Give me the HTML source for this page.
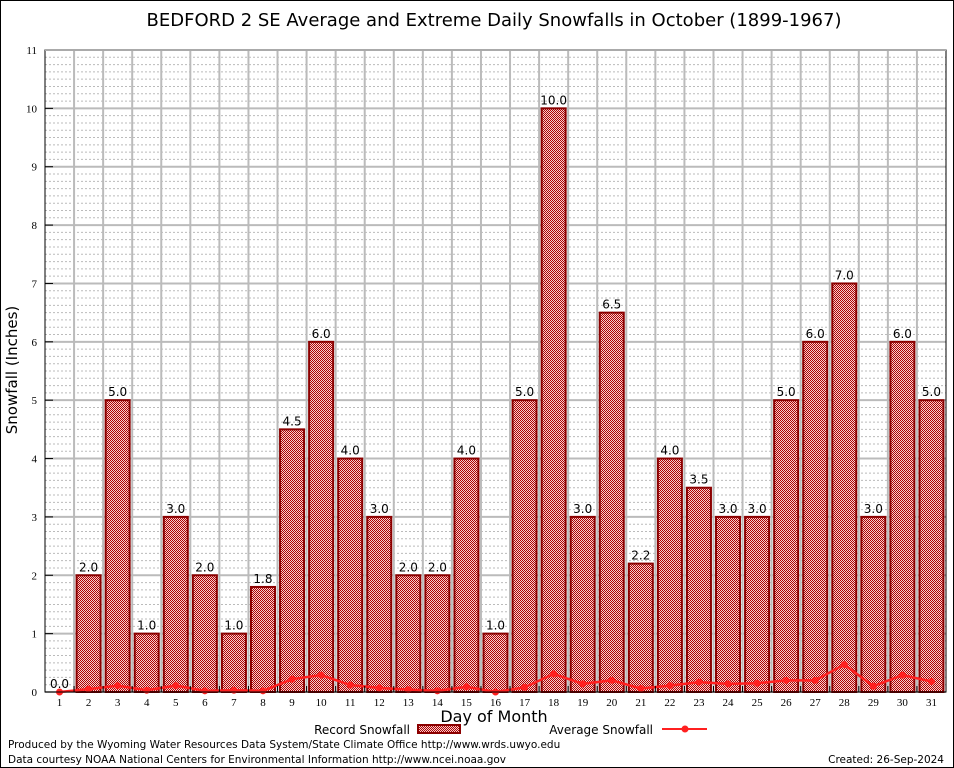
<!DOCTYPE html>
<html><head><meta charset="utf-8"><style>
html,body{margin:0;padding:0;background:#fff;}
svg{display:block;font-family:"DejaVu Sans","Liberation Sans",sans-serif;}
</style></head><body>
<svg id="chart" width="954" height="768" viewBox="0 0 954 768">
<defs>
<pattern id="chk" width="2" height="2" patternUnits="userSpaceOnUse">
<rect width="2" height="2" fill="#f4d0d0" shape-rendering="crispEdges"/><rect width="1" height="1" fill="#b00000" shape-rendering="crispEdges"/><rect x="1" y="1" width="1" height="1" fill="#b00000" shape-rendering="crispEdges"/>
</pattern>
</defs>
<rect x="0.5" y="0.5" width="953" height="767" fill="#fff" stroke="#000"/>
<text x="494" y="26" font-size="18" text-anchor="middle">BEDFORD 2 SE Average and Extreme Daily Snowfalls in October (1899-1967)</text>
<g id="grid"></g>
<g id="bars"></g>
<g id="avg"></g>
<g id="axes"></g>
<text transform="translate(17,370) rotate(-90)" font-size="15" text-anchor="middle">Snowfall (Inches)</text>
<text x="494" y="722" font-size="16" text-anchor="middle">Day of Month</text>
<g>
<text x="410" y="734" font-size="12" text-anchor="end">Record Snowfall</text>
<rect x="418" y="725" width="42" height="8" fill="url(#chk)" stroke="#8b0000" stroke-width="2"/>
<text x="653" y="734" font-size="12" text-anchor="end">Average Snowfall</text>
<line x1="662" y1="729" x2="707" y2="729" stroke="#ff2020" stroke-width="2"/>
<circle cx="685" cy="729" r="3.5" fill="#ff2020"/>
</g>
<text x="8" y="748" font-size="10.5">Produced by the Wyoming Water Resources Data System/State Climate Office http://www.wrds.uwyo.edu</text>
<text x="8" y="763" font-size="10.5">Data courtesy NOAA National Centers for Environmental Information http://www.ncei.noaa.gov</text>
<text x="944" y="763" font-size="10.5" text-anchor="end">Created: 26-Sep-2024</text>
</svg>
<script>
const days = [1,2,3,4,5,6,7,8,9,10,11,12,13,14,15,16,17,18,19,20,21,22,23,24,25,26,27,28,29,30,31];
const recordSnow = [0.0,2.0,5.0,1.0,3.0,2.0,1.0,1.8,4.5,6.0,4.0,3.0,2.0,2.0,4.0,1.0,5.0,10.0,3.0,6.5,2.2,4.0,3.5,3.0,3.0,5.0,6.0,7.0,3.0,6.0,5.0];
const avgSnow = [0.0,0.05,0.11,0.03,0.11,0.02,0.03,0.02,0.22,0.29,0.12,0.07,0.04,0.02,0.09,0.0,0.08,0.31,0.14,0.2,0.06,0.11,0.17,0.14,0.15,0.2,0.2,0.47,0.1,0.29,0.18];
const yTicks = [0,1,2,3,4,5,6,7,8,9,10,11];

const NS='http://www.w3.org/2000/svg';
const L=45,R=946,T=50,B=692,YMAX=11;
const slot=(R-L)/days.length;
const xs=d=>L+(d-0.5)*slot;
const ys=v=>B-(v/YMAX)*(B-T);
function mk(tag,attrs,parent){const e=document.createElementNS(NS,tag);for(const k in attrs)e.setAttribute(k,attrs[k]);parent.appendChild(e);return e;}
const grid=document.getElementById('grid'),bars=document.getElementById('bars'),avg=document.getElementById('avg'),axes=document.getElementById('axes');

for(let v=0;v<YMAX;v+=1){for(let k=1;k<8;k++){const y=ys(v+k/8);
const l=mk('line',{x1:L,x2:R,y1:y,y2:y,stroke:'#bbb','stroke-dasharray':'2,2','stroke-width':1},grid);

}}
yTicks.forEach(v=>{const y=ys(v);
const l=mk('line',{x1:L,x2:R,y1:y,y2:y,stroke:'#bbb','stroke-width':2},grid);


const t=mk('text',{x:L-8,y:y+4,'font-size':11,'text-anchor':'end','font-family':'Liberation Serif, serif'},axes);t.textContent=v;


const tk=mk('line',{x1:L,x2:L+8,y1:y,y2:y,stroke:'#000'},axes);


});
for(let i=1;i<days.length;i++){const x=L+i*slot;
const l=mk('line',{x1:x,x2:x,y1:T,y2:B,stroke:'#bbb','stroke-width':2},grid);

}

days.forEach((d,i)=>{const v=recordSnow[i];const x=xs(d);const w=24;
if(v>0){const r=mk('rect',{x:x-w/2,y:ys(v),width:w,height:B-ys(v),fill:'url(#chk)',stroke:'#8b0000','stroke-width':2},bars);

}
const t=mk('text',{x:x,y:ys(v)-4,'font-size':12,'text-anchor':'middle'},bars);t.textContent=v.toFixed(1);


const tl=mk('text',{x:x,y:B+14,'font-size':11,'text-anchor':'middle','font-family':'Liberation Serif, serif'},axes);tl.textContent=d;


const tk=mk('line',{x1:L+(i+1)*slot,x2:L+(i+1)*slot,y1:B,y2:B-6,stroke:'#000'},axes);


});

const pts=days.map((d,i)=>xs(d)+','+ys(avgSnow[i])).join(' ');
const pl=mk('polyline',{points:pts,fill:'none',stroke:'#ff2020','stroke-width':2.5},avg);


days.forEach((d,i)=>{const c=mk('circle',{cx:xs(d),cy:ys(avgSnow[i]),r:3.5,fill:'#ff2020'},avg);

});

const fr=mk('rect',{x:L,y:T,width:R-L,height:B-T,fill:'none',stroke:'#000','stroke-width':1},axes);


const tp=mk('line',{x1:L,x2:R,y1:T,y2:T,stroke:'#aaa','stroke-width':2},axes);


</script>
</body></html>
